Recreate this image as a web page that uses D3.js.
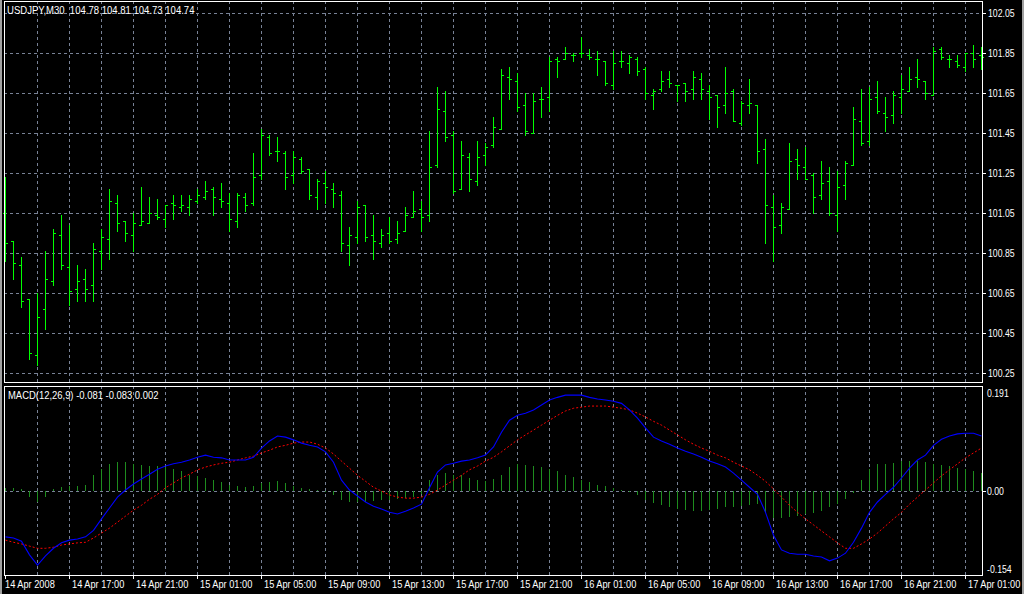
<!DOCTYPE html>
<html><head><meta charset="utf-8">
<script src="https://cdn.jsdelivr.net/npm/d3@7"></script>
<style>
html,body{margin:0;padding:0;background:#000;}
svg{display:block;}
text{font-family:"Liberation Sans",Arial,sans-serif;font-size:10.5px;fill:#fff;white-space:pre;}
</style></head>
<body>
<svg id="c" width="1024" height="594"></svg>
<script>
// ---- data ----
const timeLabels = ["14 Apr 2008","14 Apr 17:00","14 Apr 21:00","15 Apr 01:00","15 Apr 05:00","15 Apr 09:00","15 Apr 13:00","15 Apr 17:00","15 Apr 21:00","16 Apr 01:00","16 Apr 05:00","16 Apr 09:00","16 Apr 13:00","16 Apr 17:00","16 Apr 21:00","17 Apr 01:00"];
const priceTicks = [102.05,101.85,101.65,101.45,101.25,101.05,100.85,100.65,100.45,100.25];
const macdTicks = [0.191,0.00,-0.154];
const opens = [101.05,100.91,100.79,100.62,100.34,100.57,100.71,100.94,100.78,100.67,100.72,100.69,100.86,100.92,101.10,101.01,100.94,100.99,101.00,101.04,101.02,101.10,101.08,101.08,101.11,101.13,101.17,101.12,101.10,101.01,101.13,101.10,101.24,101.43,101.36,101.35,101.24,101.32,101.27,101.13,101.20,101.17,101.14,100.89,100.93,101.09,100.94,100.90,100.95,100.92,100.96,101.03,101.07,101.04,101.29,101.56,101.44,101.17,101.33,101.21,101.34,101.39,101.47,101.73,101.71,101.59,101.45,101.62,101.63,101.82,101.82,101.84,101.85,101.84,101.82,101.81,101.69,101.81,101.80,101.82,101.77,101.64,101.67,101.72,101.69,101.70,101.67,101.72,101.66,101.64,101.59,101.66,101.50,101.59,101.59,101.37,101.08,100.99,101.07,101.32,101.28,101.24,101.14,101.21,101.04,101.19,101.29,101.51,101.41,101.63,101.55,101.54,101.63,101.66,101.73,101.71,101.64,101.87,101.82,101.81,101.78,101.85,101.84];
const highs = [101.23,100.91,100.83,100.62,100.65,100.86,100.97,101.04,100.99,100.79,100.77,100.90,100.97,101.17,101.14,101.01,101.05,101.18,101.13,101.12,101.09,101.14,101.14,101.14,101.17,101.21,101.18,101.20,101.15,101.15,101.15,101.35,101.47,101.44,101.43,101.36,101.36,101.33,101.27,101.22,101.26,101.20,101.16,100.98,101.11,101.09,101.04,100.97,101.03,101.01,101.08,101.16,101.11,101.46,101.68,101.66,101.46,101.41,101.35,101.41,101.40,101.53,101.77,101.78,101.75,101.65,101.65,101.68,101.83,101.83,101.88,101.85,101.93,101.87,101.86,101.81,101.86,101.86,101.84,101.83,101.78,101.67,101.76,101.76,101.69,101.70,101.76,101.75,101.69,101.64,101.78,101.67,101.61,101.72,101.59,101.42,101.14,101.10,101.40,101.37,101.38,101.25,101.31,101.28,101.26,101.31,101.58,101.67,101.68,101.71,101.63,101.66,101.74,101.78,101.82,101.71,101.88,101.88,101.84,101.84,101.85,101.89,101.88];
const lows = [100.81,100.72,100.58,100.32,100.29,100.47,100.69,100.77,100.59,100.61,100.61,100.61,100.77,100.82,100.96,100.91,100.86,100.99,101.00,101.02,100.98,101.02,101.06,101.04,101.10,101.12,101.04,101.08,100.96,100.98,101.06,101.09,101.22,101.34,101.31,101.17,101.20,101.25,101.12,101.07,101.10,101.08,100.86,100.79,100.90,100.91,100.82,100.88,100.90,100.90,100.96,101.03,100.96,101.01,101.28,101.41,101.15,101.17,101.16,101.19,101.29,101.38,101.47,101.62,101.56,101.44,101.45,101.53,101.56,101.73,101.82,101.81,101.83,101.82,101.74,101.69,101.67,101.78,101.75,101.74,101.62,101.57,101.66,101.68,101.61,101.61,101.62,101.62,101.52,101.48,101.55,101.51,101.49,101.55,101.30,100.90,100.81,100.95,101.07,101.22,101.22,101.05,101.12,101.04,100.96,101.12,101.29,101.39,101.39,101.55,101.46,101.50,101.55,101.66,101.68,101.62,101.64,101.82,101.78,101.78,101.76,101.78,101.77];
const closes = [100.90,100.80,100.61,100.35,100.53,100.72,100.95,100.79,100.66,100.71,100.67,100.87,100.93,101.11,101.00,100.95,101.00,101.01,101.05,101.03,101.09,101.09,101.09,101.12,101.14,101.16,101.13,101.11,101.02,101.14,101.09,101.23,101.44,101.35,101.36,101.23,101.33,101.26,101.14,101.21,101.18,101.15,100.90,100.94,101.08,100.93,100.91,100.94,100.91,100.95,101.04,101.06,101.03,101.28,101.57,101.43,101.16,101.34,101.22,101.33,101.38,101.48,101.74,101.72,101.58,101.46,101.61,101.62,101.81,101.81,101.85,101.84,101.85,101.83,101.82,101.70,101.80,101.81,101.83,101.76,101.65,101.66,101.71,101.70,101.69,101.66,101.73,101.67,101.63,101.58,101.65,101.51,101.60,101.60,101.36,101.09,100.98,101.08,101.31,101.29,101.22,101.13,101.20,101.05,101.18,101.30,101.52,101.40,101.62,101.56,101.53,101.64,101.67,101.72,101.72,101.65,101.86,101.83,101.82,101.79,101.85,101.82,101.83];
const macdMain = [-0.084,-0.086,-0.092,-0.117,-0.136,-0.119,-0.105,-0.095,-0.090,-0.088,-0.084,-0.072,-0.051,-0.031,-0.011,0.002,0.013,0.022,0.031,0.040,0.046,0.050,0.053,0.057,0.062,0.066,0.062,0.061,0.057,0.057,0.057,0.062,0.079,0.092,0.101,0.099,0.094,0.088,0.084,0.081,0.072,0.053,0.020,0.002,-0.009,-0.020,-0.028,-0.033,-0.039,-0.042,-0.037,-0.031,-0.024,0.006,0.035,0.048,0.051,0.055,0.057,0.061,0.066,0.081,0.108,0.130,0.139,0.143,0.149,0.158,0.167,0.172,0.176,0.176,0.176,0.172,0.169,0.167,0.165,0.161,0.149,0.134,0.116,0.099,0.092,0.086,0.079,0.073,0.068,0.062,0.055,0.050,0.044,0.033,0.020,0.007,-0.006,-0.039,-0.081,-0.108,-0.114,-0.116,-0.116,-0.119,-0.121,-0.128,-0.123,-0.114,-0.094,-0.068,-0.039,-0.020,-0.006,0.007,0.024,0.042,0.057,0.066,0.084,0.095,0.101,0.105,0.106,0.106,0.101];
const macdSignal = [-0.090,-0.094,-0.097,-0.101,-0.105,-0.105,-0.103,-0.099,-0.097,-0.095,-0.094,-0.086,-0.077,-0.068,-0.057,-0.046,-0.035,-0.026,-0.015,-0.006,0.006,0.015,0.024,0.031,0.039,0.044,0.048,0.051,0.053,0.057,0.061,0.064,0.070,0.075,0.081,0.084,0.088,0.090,0.090,0.086,0.079,0.068,0.055,0.042,0.029,0.018,0.007,0.000,-0.007,-0.011,-0.013,-0.013,-0.011,-0.006,0.002,0.011,0.020,0.029,0.039,0.046,0.055,0.062,0.072,0.083,0.094,0.103,0.112,0.121,0.130,0.139,0.147,0.152,0.154,0.156,0.156,0.156,0.154,0.152,0.149,0.143,0.136,0.128,0.121,0.112,0.103,0.094,0.086,0.079,0.073,0.066,0.061,0.053,0.046,0.039,0.029,0.018,0.004,-0.011,-0.026,-0.039,-0.051,-0.062,-0.073,-0.084,-0.095,-0.105,-0.105,-0.097,-0.088,-0.077,-0.064,-0.051,-0.039,-0.024,-0.011,0.002,0.015,0.028,0.039,0.050,0.061,0.070,0.079];
const macdHist = [0.006,0.005,0.004,-0.010,-0.020,-0.010,0.004,0.008,0.010,0.010,0.012,0.030,0.040,0.050,0.054,0.054,0.050,0.048,0.046,0.046,0.044,0.040,0.036,0.030,0.028,0.024,0.020,0.016,0.012,0.010,0.008,0.010,0.014,0.016,0.018,0.014,0.010,0.006,0.004,0.002,-0.002,-0.008,-0.016,-0.020,-0.020,-0.020,-0.018,-0.016,-0.016,-0.014,-0.012,-0.010,-0.006,0.020,0.030,0.034,0.030,0.030,0.024,0.020,0.018,0.022,0.030,0.044,0.050,0.048,0.046,0.044,0.040,0.036,0.030,0.026,0.020,0.016,0.012,0.010,0.006,0.002,-0.002,-0.008,-0.016,-0.022,-0.026,-0.030,-0.032,-0.034,-0.036,-0.036,-0.034,-0.032,-0.030,-0.030,-0.028,-0.026,-0.024,-0.040,-0.050,-0.050,-0.048,-0.046,-0.042,-0.040,-0.036,-0.030,-0.024,-0.014,-0.004,0.020,0.040,0.050,0.050,0.052,0.055,0.056,0.056,0.054,0.050,0.048,0.046,0.042,0.040,0.036,0.034];

// ---- layout ----
const svg = d3.select("#c");
const L = 4, R = 982, T1 = 1, B1 = 382, T2 = 386, B2 = 575;
const GRID = "#788296";
const n = closes.length;
const x = d3.scaleLinear().domain([0, n - 1]).range([5, 981]);
const yP = d3.scaleLinear().domain([100.25, 102.05]).range([373, 13]);
const yM = d3.scaleLinear().domain([-0.154, 0.191]).range([575, 387]);

svg.append("rect").attr("width",1024).attr("height",594).attr("fill","#000");
svg.append("rect").attr("x",0).attr("y",0).attr("width",2).attr("height",594).attr("fill","#a0a0a0");
svg.append("rect").attr("x",1022).attr("y",0).attr("width",2).attr("height",594).attr("fill","#a0a0a0");

const g = svg.append("g").attr("shape-rendering","crispEdges");

// vertical grid lines every 4 bars
const vIdx = d3.range(4, n, 4);
[[T1, B1],[T2, B2]].forEach(([t,b]) => {
  g.selectAll(null).data(vIdx).enter().append("line")
    .attr("x1", d => x(d) + 0.5).attr("x2", d => x(d) + 0.5)
    .attr("y1", t).attr("y2", b)
    .attr("stroke", GRID).attr("stroke-dasharray","3,3");
});
g.selectAll(null).data(priceTicks).enter().append("line")
  .attr("x1", L).attr("x2", R)
  .attr("y1", d => Math.round(yP(d)) + 0.5).attr("y2", d => Math.round(yP(d)) + 0.5)
  .attr("stroke", GRID).attr("stroke-dasharray","3,3");
g.append("line").attr("x1", L).attr("x2", R)
  .attr("y1", Math.round(yM(0)) + 0.5).attr("y2", Math.round(yM(0)) + 0.5)
  .attr("stroke", GRID).attr("stroke-dasharray","3,3");

// OHLC bars
const bars = g.append("g").attr("stroke","#00ff00");
const idx = d3.range(n);
bars.selectAll(null).data(idx).enter().append("line")
  .attr("x1", i => x(i) + 0.5).attr("x2", i => x(i) + 0.5)
  .attr("y1", i => Math.round(yP(highs[i]))).attr("y2", i => Math.round(yP(lows[i])) + 1);
bars.selectAll(null).data(idx).enter().append("line")
  .attr("x1", i => x(i) - 2).attr("x2", i => x(i))
  .attr("y1", i => Math.round(yP(opens[i])) + 0.5).attr("y2", i => Math.round(yP(opens[i])) + 0.5);
bars.selectAll(null).data(idx).enter().append("line")
  .attr("x1", i => x(i) + 1).attr("x2", i => x(i) + 3)
  .attr("y1", i => Math.round(yP(closes[i])) + 0.5).attr("y2", i => Math.round(yP(closes[i])) + 0.5);

// histogram
g.append("g").attr("stroke","#1e8c1e").selectAll("line").data(idx).enter().append("line")
  .attr("x1", i => x(i) + 0.5).attr("x2", i => x(i) + 0.5)
  .attr("y1", Math.round(yM(0))).attr("y2", i => Math.round(yM(macdHist[i])));

// lines
const lineM = d3.line().x((d,i) => x(i) + 0.5).y(d => yM(d));
svg.append("path").datum(macdSignal).attr("d", lineM).attr("fill","none")
  .attr("stroke","#ff0000").attr("stroke-width",1).attr("stroke-dasharray","2,2");
svg.append("path").datum(macdMain).attr("d", lineM).attr("fill","none")
  .attr("stroke","#0000ff").attr("stroke-width",1.1);

// frames
g.append("rect").attr("x", L + 0.5).attr("y", T1 + 0.5).attr("width", R - L).attr("height", B1 - T1)
  .attr("fill","none").attr("stroke","#fff");
g.append("rect").attr("x", L + 0.5).attr("y", T2 + 0.5).attr("width", R - L).attr("height", B2 - T2)
  .attr("fill","none").attr("stroke","#fff");

function txt(px, py, s, sx) {
  svg.append("text").attr("transform", `translate(${px},${py}) scale(${sx},1)`).text(s);
}

// price axis labels
g.selectAll(null).data(priceTicks).enter().append("line")
  .attr("x1", R).attr("x2", R + 4)
  .attr("y1", d => Math.round(yP(d)) + 0.5).attr("y2", d => Math.round(yP(d)) + 0.5).attr("stroke","#fff");
priceTicks.forEach(d => txt(R + 6, yP(d) + 4, d.toFixed(2), 0.83));

// macd axis labels
const mPos = [392.7, yM(0), 568.7];
macdTicks.forEach((d,i) => txt(R + 5, mPos[i] + 4, d === 0 ? "0.00" : d.toFixed(3), 0.83));
g.append("line").attr("x1", R).attr("x2", R + 4)
  .attr("y1", Math.round(yM(0)) + 0.5).attr("y2", Math.round(yM(0)) + 0.5).attr("stroke","#fff");

// time axis
const tIdx = timeLabels.map((d,i) => i * 8);
g.selectAll(null).data(tIdx).enter().append("line")
  .attr("x1", i => x(i) + 0.5).attr("x2", i => x(i) + 0.5)
  .attr("y1", B2).attr("y2", B2 + 4).attr("stroke","#fff");
tIdx.forEach((i,k) => txt(k === 0 ? x(i) : x(i) + 3, 588, timeLabels[k], 0.88));

// titles
txt(7, 14, "USDJPY,M30  104.78 104.81 104.73 104.74", 0.91);
txt(8, 399, "MACD(12,26,9) -0.081 -0.083 0.002", 0.9);
</script>
</body></html>
